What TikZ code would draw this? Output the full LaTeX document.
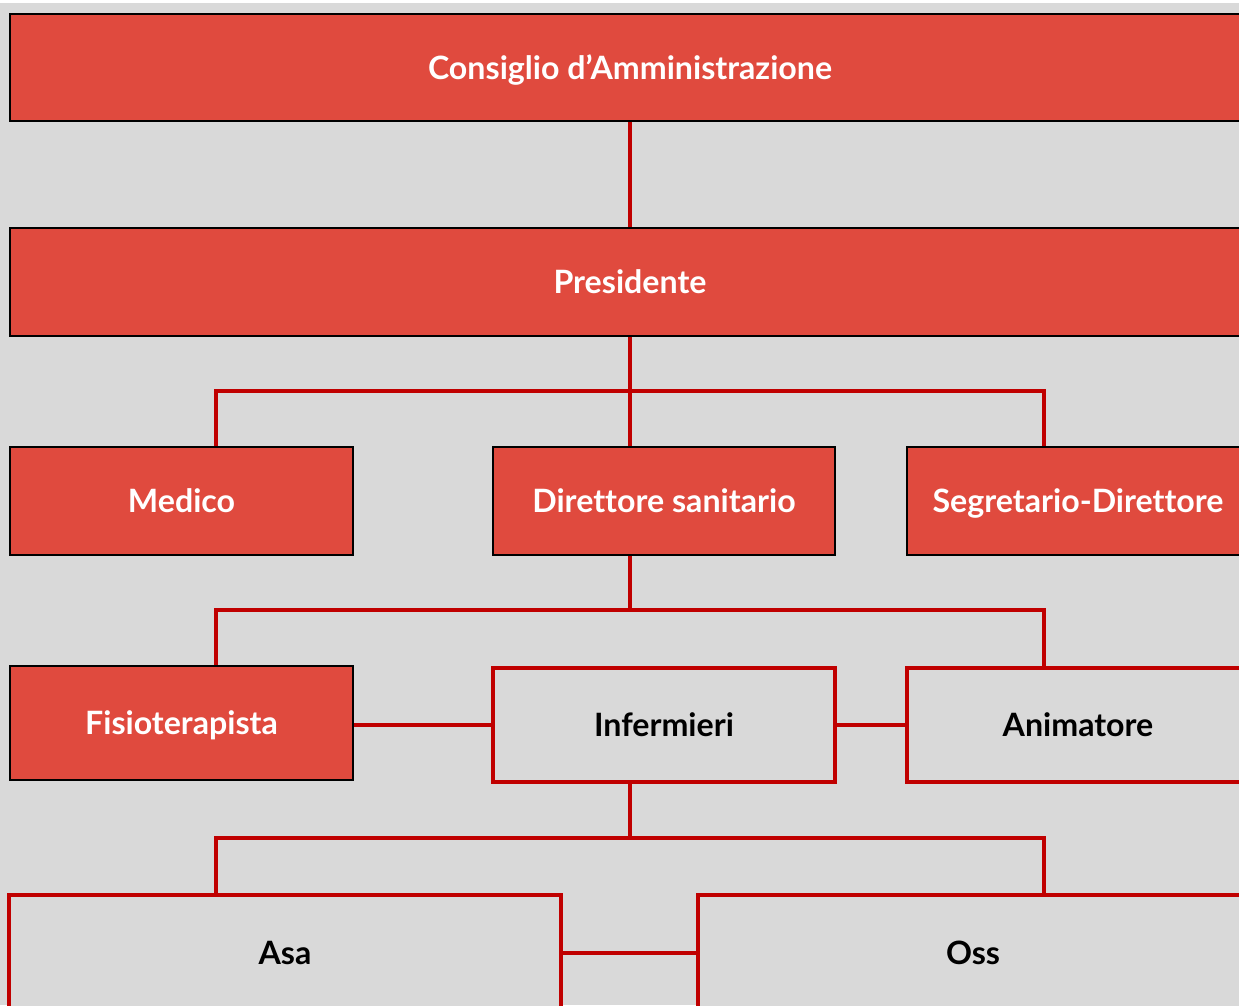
\documentclass[tikz,border=0pt]{standalone}
\usepackage{fontspec}
\setmainfont{Lato}[Ligatures=NoCommon]
\usetikzlibrary{positioning}
\definecolor{boxred}{RGB}{224,74,62}
\definecolor{linkred}{RGB}{192,0,0}
\definecolor{bggray}{RGB}{217,217,217}

\begin{document}
\begin{tikzpicture}[x=0.02cm, y=-0.02cm,
    redbox/.style={draw=black, line width=1.1pt, fill=boxred, text=white, inner sep=0pt,
      text height=13.2pt, text depth=0pt, font=\fontsize{18.3}{21}\selectfont\bfseries},
    graybox/.style={draw=linkred, line width=1.8pt, fill=bggray, text=black, inner sep=0pt,
      text height=13.2pt, text depth=0pt, font=\fontsize{18.3}{21}\selectfont\bfseries},
    link/.style={draw=linkred, line width=1.8pt}]
  \useasboundingbox (0,0) rectangle (1239,1005);
  \clip (0,0) rectangle (1239,1005);
  \fill[bggray] (0,3) rectangle (1239,1005);

  % vertici
  \node[redbox, minimum width=24.8cm, minimum height=2.14cm] (cda) at (630,67.5) {Consiglio d’Amministrazione};
  \node[redbox, minimum width=24.8cm, minimum height=2.16cm] (pres) at (630,282) {Presidente};

  % secondo livello
  \node[redbox, minimum width=6.86cm, minimum height=2.16cm] (medico) at (181.5,501) {Medico};
  \node[redbox, minimum width=6.84cm, minimum height=2.16cm] (dirsan) at (664,501) {Direttore sanitario};
  \node[redbox, minimum width=6.84cm, minimum height=2.16cm] (segr) at (1078,501) {Segretario-Direttore};

  % terzo livello
  \node[redbox, minimum width=6.86cm, minimum height=2.28cm] (fisio) at (181.5,723) {Fisioterapista};
  \node[graybox, minimum width=6.84cm, minimum height=2.28cm] (inferm) at (664,725) {Infermieri};
  \node[graybox, minimum width=6.84cm, minimum height=2.28cm] (anim) at (1078,725) {Animatore};

  % quarto livello
  \node[graybox, minimum width=11.04cm, minimum height=2.32cm] (asa) at (285,953) {Asa};
  \node[graybox, minimum width=11.0cm, minimum height=2.32cm] (oss) at (973,953) {Oss};

  % collegamenti
  \coordinate (bus1) at (630,391);
  \coordinate (bus2) at (630,610);
  \coordinate (bus3) at (630,838);
  \draw[link] (cda.south) -- (pres.north);
  \draw[link] (pres.south) -- (pres.south |- dirsan.north);
  \draw[link] ([xshift=0.69cm]medico.north) |- (bus1) -| ([xshift=-0.68cm]segr.north);
  \draw[link] (dirsan.south -| bus2) -- (bus2);
  \draw[link] ([xshift=0.69cm]fisio.north) |- (bus2) -| ([xshift=-0.68cm]anim.north);
  \draw[link] (fisio.east |- inferm.west) -- (inferm.west);
  \draw[link] (inferm.east) -- (anim.west);
  \draw[link] (inferm.south -| bus3) -- (bus3);
  \draw[link] ([xshift=-1.38cm]asa.north) |- (bus3) -| ([xshift=1.42cm]oss.north);
  \draw[link] (asa.east) -- (oss.west);
\end{tikzpicture}
\end{document}
